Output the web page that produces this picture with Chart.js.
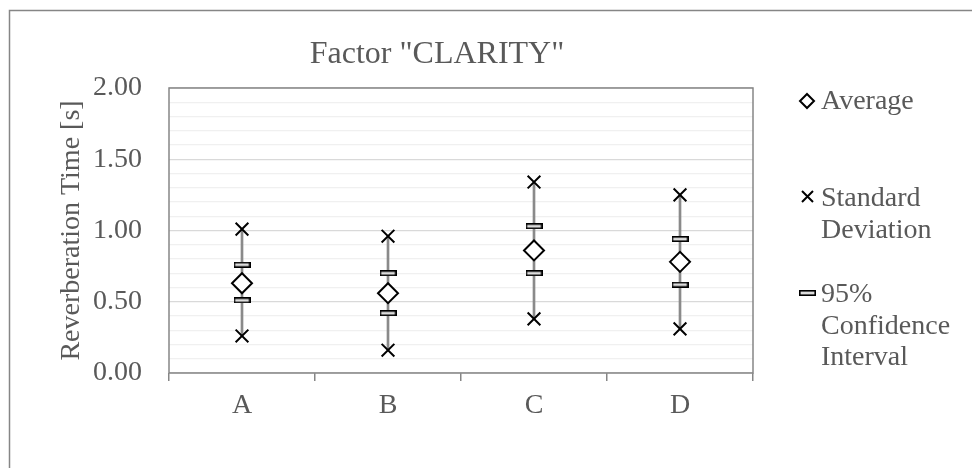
<!DOCTYPE html>
<html lang="en">
<head>
    <meta charset="UTF-8">
    <title>Factor "CLARITY"</title>
    <script src="https://cdn.jsdelivr.net/npm/chart.js"></script>
    <style>
        html, body { margin: 0; padding: 0; background: #fff; }
        #wrap { width: 972px; height: 468px; position: relative; overflow: hidden; }
    </style>
</head>
<body>
    <div id="wrap">
        <canvas id="chart" width="972" height="468"></canvas>
    </div>
    <script>
        // values (seconds)
        const categories = ['A', 'B', 'C', 'D'];
        const average = [0.63, 0.56, 0.86, 0.78];
        const sdHigh = [1.01, 0.96, 1.34, 1.25];
        const sdLow = [0.26, 0.16, 0.38, 0.31];
        const ciHigh = [0.76, 0.70, 1.03, 0.94];
        const ciLow = [0.51, 0.42, 0.70, 0.62];

        const chartTitle = 'Factor "CLARITY"';
        const yTitle = 'Reverberation Time [s]';
        const legendLabels = [['Average'], ['Standard', 'Deviation'], ['95%', 'Confidence', 'Interval']];

        const TEXT = '#595959';
        const AXIS = '#868686';
        const FONT = "'Liberation Serif', 'Times New Roman', serif";

        Chart.defaults.font.family = FONT;
        Chart.defaults.color = TEXT;

        // small outlined dash used for the confidence interval marks
        function makeDash(w, h) {
            const c = document.createElement('canvas');
            c.width = w; c.height = h;
            const g = c.getContext('2d');
            g.fillStyle = '#dcdcdc';
            g.fillRect(1, 1, w - 2, h - 2);
            g.strokeStyle = '#000';
            g.lineWidth = 1.6;
            g.strokeRect(0.8, 0.8, w - 1.6, h - 1.6);
            return c;
        }
        const dash = makeDash(17, 6);

        const frame = {
            id: 'frame',
            beforeDraw(chart) {
                const ctx = chart.ctx;
                ctx.save();
                ctx.strokeStyle = AXIS;
                ctx.lineWidth = 1.5;
                ctx.strokeRect(9.5, 10.5, 1100, 1100);
                ctx.restore();
            },
            beforeDatasetsDraw(chart) {
                const a = chart.chartArea;
                const ctx = chart.ctx;
                ctx.save();
                ctx.strokeStyle = AXIS;
                ctx.lineWidth = 1.5;
                ctx.strokeRect(a.left, a.top, a.right - a.left, a.bottom - a.top);
                ctx.restore();
            },
            afterDraw(chart) {
                const ctx = chart.ctx;
                ctx.save();
                ctx.fillStyle = TEXT;
                ctx.font = '32px ' + FONT;
                ctx.textAlign = 'center';
                ctx.textBaseline = 'alphabetic';
                ctx.fillText(chartTitle, 437, 63);

                // legend
                ctx.font = '28px ' + FONT;
                ctx.textAlign = 'left';
                const tops = [109, 206, 302];
                legendLabels.forEach((lines, i) => {
                    lines.forEach((t, j) => ctx.fillText(t, 821, tops[i] + j * 31.5));
                });
                ctx.strokeStyle = '#000';
                ctx.lineWidth = 2;
                // diamond
                ctx.fillStyle = '#fff';
                ctx.beginPath();
                ctx.moveTo(807, 94); ctx.lineTo(814, 101); ctx.lineTo(807, 108); ctx.lineTo(800, 101);
                ctx.closePath();
                ctx.fill(); ctx.stroke();
                // cross
                ctx.beginPath();
                ctx.moveTo(802, 191); ctx.lineTo(813, 202);
                ctx.moveTo(813, 191); ctx.lineTo(802, 202);
                ctx.stroke();
                // dash
                ctx.drawImage(dash, 799, 290);
                ctx.restore();
            }
        };

        const markers = (data, label, style, radius, extra) => Object.assign({
            type: 'line',
            label: label,
            data: data,
            showLine: false,
            pointStyle: style,
            pointRadius: radius,
            pointBorderWidth: 2,
            pointBorderColor: '#000',
            pointBackgroundColor: '#fff',
            order: 1
        }, extra || {});

        new Chart(document.getElementById('chart'), {
            type: 'bar',
            data: {
                labels: categories,
                datasets: [
                    {
                        label: 'range',
                        data: sdLow.map((v, i) => [v, sdHigh[i]]),
                        backgroundColor: '#8a8a8a',
                        barThickness: 2,
                        order: 5
                    },
                    markers(sdHigh, 'Standard Deviation', 'crossRot', 9),
                    markers(sdLow, 'Standard Deviation', 'crossRot', 9),
                    markers(ciHigh, '95% Confidence Interval', dash, 8),
                    markers(ciLow, '95% Confidence Interval', dash, 8),
                    markers(average, 'Average', 'rectRot', 10)
                ]
            },
            options: {
                responsive: false,
                devicePixelRatio: 1,
                animation: false,
                layout: { padding: { left: 9, top: 88, right: 219, bottom: 0 } },
                plugins: {
                    legend: { display: false },
                    tooltip: { enabled: false },
                    title: { display: false }
                },
                scales: {
                    x: {
                        offset: true,
                        grid: {
                            offset: true,
                            drawOnChartArea: false,
                            drawTicks: true,
                            tickLength: 8,
                            color: AXIS,
                            lineWidth: 1.5
                        },
                        border: { display: false },
                        ticks: { font: { size: 28 }, color: TEXT, padding: 8 },
                        afterFit(scale) { scale.height = 95; }
                    },
                    y: {
                        min: 0,
                        max: 2,
                        grid: {
                            drawTicks: false,
                            color: ctx => {
                                const v = ctx.tick ? ctx.tick.value : 0;
                                return Math.abs(v * 2 - Math.round(v * 2)) < 1e-6 ? '#d9d9d9' : '#f0f0f0';
                            },
                            lineWidth: 1.2
                        },
                        border: { display: false },
                        ticks: {
                            stepSize: 0.1,
                            autoSkip: false,
                            padding: 27,
                            font: { size: 28 },
                            color: TEXT,
                            callback: v => Math.abs(v * 2 - Math.round(v * 2)) < 1e-6 ? v.toFixed(2) : ''
                        },
                        title: {
                            display: true,
                            text: yTitle,
                            font: { size: 28 },
                            color: TEXT,
                            padding: { top: 46, bottom: 0 }
                        },
                        afterFit(scale) { scale.width = 160; }
                    }
                }
            },
            plugins: [frame]
        });
    </script>
</body>
</html>
